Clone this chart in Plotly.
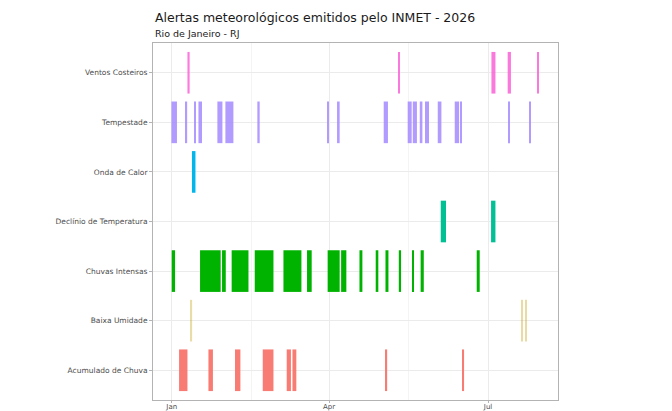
import pandas as pd
import plotly.graph_objects as go

# categorias, de baixo para cima
categorias = ['Acumulado de Chuva', 'Baixa Umidade', 'Chuvas Intensas',
              'Declínio de Temperatura', 'Onda de Calor', 'Tempestade',
              'Ventos Costeiros']

cores = ['#F8766D', '#C49A00', '#00B300', '#00C094', '#00B6EB', '#A58AFF', '#FB61D7']
opacidades = [0.95, 0.35, 1.0, 1.0, 1.0, 0.85, 0.85]

# periodos de alerta (inicio, fim)
acumulado_chuva = [
    ('2026-01-05 05:00', '2026-01-10 00:00'),
    ('2026-01-22 00:00', '2026-01-24 14:00'),
    ('2026-02-06 05:00', '2026-02-09 07:00'),
    ('2026-02-22 02:00', '2026-02-28 05:00'),
    ('2026-03-07 19:00', '2026-03-10 05:00'),
    ('2026-03-11 02:00', '2026-03-13 07:00'),
    ('2026-05-03 12:00', '2026-05-04 06:00'),
    ('2026-06-16 12:00', '2026-06-17 06:00'),
]
baixa_umidade = [
    ('2026-01-12 00:00', '2026-01-12 16:00'),
    ('2026-07-20 08:00', '2026-07-21 00:00'),
    ('2026-07-22 05:00', '2026-07-22 21:00'),
]
chuvas_intensas = [
    ('2026-01-01 00:00', '2026-01-02 22:00'),
    ('2026-01-17 05:00', '2026-01-29 00:00'),
    ('2026-01-29 19:00', '2026-01-31 22:00'),
    ('2026-02-04 07:00', '2026-02-13 22:00'),
    ('2026-02-17 12:00', '2026-02-28 05:00'),
    ('2026-03-05 22:00', '2026-03-16 05:00'),
    ('2026-03-19 10:00', '2026-03-22 02:00'),
    ('2026-03-31 05:00', '2026-04-07 02:00'),
    ('2026-04-07 22:00', '2026-04-10 22:00'),
    ('2026-04-18 10:00', '2026-04-20 02:00'),
    ('2026-04-27 17:00', '2026-04-29 05:00'),
    ('2026-05-03 07:00', '2026-05-05 00:00'),
    ('2026-05-10 22:00', '2026-05-12 05:00'),
    ('2026-05-18 12:00', '2026-05-19 04:00'),
    ('2026-05-23 10:00', '2026-05-25 05:00'),
    ('2026-06-24 12:00', '2026-06-26 05:00'),
]
declinio_temperatura = [
    ('2026-06-03 22:00', '2026-06-06 22:00'),
    ('2026-07-02 17:00', '2026-07-05 05:00'),
]
onda_calor = [
    ('2026-01-12 14:00', '2026-01-14 14:00'),
]
tempestade = [
    ('2025-12-31 20:00', '2026-01-04 00:00'),
    ('2026-01-09 04:00', '2026-01-09 20:00'),
    ('2026-01-14 04:00', '2026-01-14 20:00'),
    ('2026-01-16 07:00', '2026-01-18 08:00'),
    ('2026-01-27 03:00', '2026-01-30 00:00'),
    ('2026-01-31 17:00', '2026-02-05 07:00'),
    ('2026-02-19 00:00', '2026-02-20 08:00'),
    ('2026-03-30 22:00', '2026-03-31 14:00'),
    ('2026-04-05 14:00', '2026-04-07 02:00'),
    ('2026-05-02 07:00', '2026-05-04 17:00'),
    ('2026-05-16 00:00', '2026-05-18 07:00'),
    ('2026-05-18 22:00', '2026-05-21 07:00'),
    ('2026-05-22 22:00', '2026-05-24 10:00'),
    ('2026-05-25 22:00', '2026-05-26 17:00'),
    ('2026-05-27 02:00', '2026-05-28 00:00'),
    ('2026-06-02 05:00', '2026-06-04 07:00'),
    ('2026-06-11 22:00', '2026-06-14 10:00'),
    ('2026-06-15 10:00', '2026-06-15 22:00'),
    ('2026-07-12 15:00', '2026-07-13 05:00'),
    ('2026-07-24 15:00', '2026-07-25 05:00'),
]
ventos_costeiros = [
    ('2026-01-10 00:00', '2026-01-11 06:00'),
    ('2026-05-10 16:00', '2026-05-11 06:00'),
    ('2026-07-02 22:00', '2026-07-05 05:00'),
    ('2026-07-12 05:00', '2026-07-14 02:00'),
    ('2026-07-29 09:00', '2026-07-29 23:00'),
]

alertas = [acumulado_chuva, baixa_umidade, chuvas_intensas, declinio_temperatura,
           onda_calor, tempestade, ventos_costeiros]

marcas_x = ['2026-01-01', '2026-04-01', '2026-07-01']
rotulos_x = ['Jan', 'Apr', 'Jul']
marcas_menores = ['2026-02-15 12:00', '2026-05-16 12:00']

fig = go.Figure()
for cat, cor, op, periodos in zip(categorias, cores, opacidades, alertas):
    ini = pd.to_datetime([p[0] for p in periodos])
    fim = pd.to_datetime([p[1] for p in periodos])
    dur = (fim - ini).total_seconds() * 1000
    fig.add_trace(go.Bar(
        y=[cat] * len(periodos),
        x=list(dur),
        base=[d.strftime('%Y-%m-%d %H:%M') for d in ini],
        orientation='h',
        width=0.84,
        marker=dict(color=cor, line=dict(width=0)),
        opacity=op,
        showlegend=False,
    ))

# a pagina tem 8px de margem no body, por isso as margens compensam
fonte = 'DejaVu Sans'
fig.update_layout(
    width=672, height=411,
    margin=dict(l=145, r=122, t=35, b=19),
    plot_bgcolor='white', paper_bgcolor='white',
    barmode='overlay',
    font=dict(family=fonte, size=8, color='#4D4D4D'),
    annotations=[
        dict(text='Alertas meteorológicos emitidos pelo INMET - 2026',
             xref='paper', yref='paper', x=0, y=1.0713, xanchor='left', yanchor='middle',
             showarrow=False, font=dict(family=fonte, size=12.5, color='#1A1A1A')),
        dict(text='Rio de Janeiro - RJ',
             xref='paper', yref='paper', x=0, y=1.028, xanchor='left', yanchor='middle',
             showarrow=False, font=dict(family=fonte, size=9.5, color='#1A1A1A')),
    ],
)
fig.update_xaxes(
    type='date', range=['2025-12-21 07:00', '2026-08-10 00:00'],
    tickmode='array', tickvals=marcas_x, ticktext=rotulos_x,
    showgrid=True, gridcolor='#EBEBEB', gridwidth=1,
    minor=dict(tickmode='array', tickvals=marcas_menores, showgrid=True,
               gridcolor='#F4F4F4', gridwidth=1, ticks=''),
    showline=True, linecolor='#B3B3B3', linewidth=1, mirror=True,
    ticks='outside', ticklen=2, tickcolor='#B3B3B3', tickfont=dict(size=7),
    ticklabelstandoff=-2,
    zeroline=False, automargin=False,
)
fig.update_yaxes(
    type='category', categoryorder='array', categoryarray=categorias,
    range=[-0.6, 6.6],
    showgrid=True, gridcolor='#EBEBEB', gridwidth=1,
    showline=True, linecolor='#B3B3B3', linewidth=1, mirror=True,
    ticks='outside', ticklen=3, tickcolor='#B3B3B3', tickfont=dict(size=7.5),
    zeroline=False, automargin=False,
)

fig.write_html('out.html')
